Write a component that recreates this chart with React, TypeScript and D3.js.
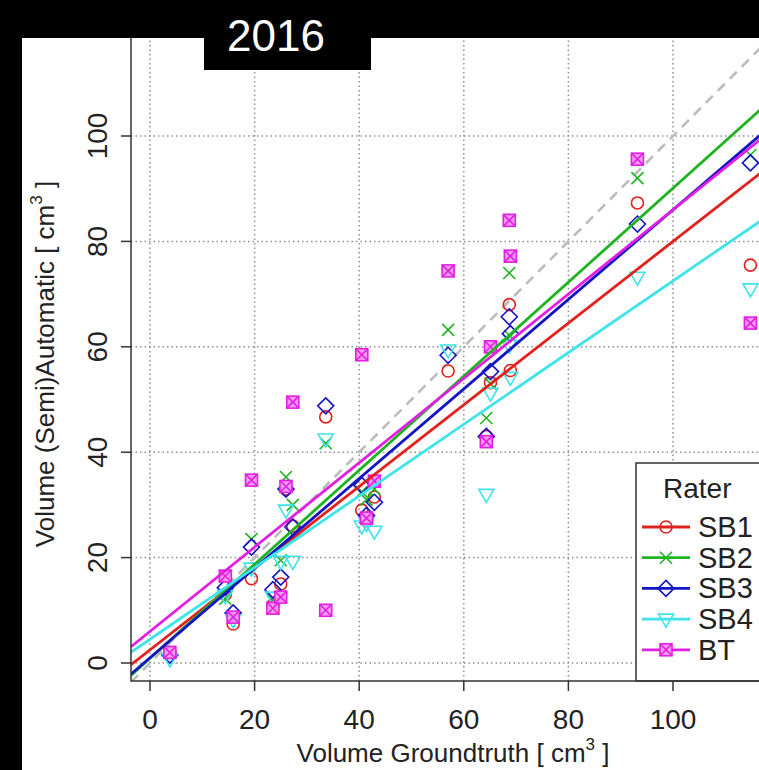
import React from "react";
import * as d3 from "d3";

// groundtruth volume per case (cm^3)
const groundTruth = [3.8, 14.4, 15.9, 19.4, 23.5, 25.0, 26.0, 27.3, 33.6, 40.5, 41.4, 42.9, 57.0, 64.3, 65.1, 68.7, 68.9, 93.2, 114.8];
// (semi)automatic volumes per rater
const sb1 = [2.0, 13.0, 7.4, 16.0, 11.0, 15.0, 33.0, 26.0, 46.7, 29.0, 27.0, 31.5, 55.4, 43.0, 53.2, 68.0, 55.5, 87.3, 75.5];
const sb2 = [2.0, 12.2, 9.0, 23.5, 12.0, 19.5, 35.3, 30.0, 41.7, 32.5, 31.0, 33.0, 63.2, 46.5, 53.0, 74.0, 62.0, 92.0, 96.4];
const sb3 = [1.5, 14.3, 9.5, 22.0, 13.9, 16.3, 33.0, 25.8, 48.8, 33.7, 28.0, 30.5, 58.4, 43.0, 55.3, 65.7, 62.5, 83.3, 94.9];
const sb4 = [0.8, 12.8, 8.2, 18.0, 12.5, 19.3, 29.0, 19.3, 42.5, 26.0, 26.5, 25.0, 59.4, 32.0, 51.2, 60.3, 54.2, 73.2, 71.0];
const bt = [2.0, 16.5, 8.7, 34.7, 10.4, 12.5, 33.5, 49.5, 10.0, 58.5, 27.5, 34.5, 74.4, 42.0, 60.0, 84.0, 77.2, 95.6, 64.5];

const raters = ["SB1", "SB2", "SB3", "SB4", "BT"];
const raterValues = [sb1, sb2, sb3, sb4, bt];
const colors = ["#e3201c", "#1fb41f", "#1414c4", "#3ee4ea", "#e31ee3"];
const shapes = ["circle", "cross", "diamond", "triangle", "squarex"];
// fitted lines
const intercepts = [2.5, 0.9, 1.0, 4.5, 6.0];
const slopes = [0.775, 0.892, 0.85, 0.68, 0.8];

const xTicks = [0, 20, 40, 60, 80, 100, 120];
const yTicks = [0, 20, 40, 60, 80, 100];

const W = 759;
const H = 770;
const left = 131;
const bottom = 681;

const x = d3.scaleLinear().domain([0, 100]).range([150, 673]);
const y = d3.scaleLinear().domain([0, 100]).range([663, 136]);

const font = "'Liberation Sans', Arial, sans-serif";

function Marker({ shape, cx, cy, color }: { shape: string; cx: number; cy: number; color: string }) {
  const sw = 1.6;
  if (shape === "circle") return <circle cx={cx} cy={cy} r={6} fill="none" stroke={color} strokeWidth={sw} />;
  if (shape === "cross")
    return (
      <path d={`M${cx - 6},${cy - 6}L${cx + 6},${cy + 6}M${cx - 6},${cy + 6}L${cx + 6},${cy - 6}`} stroke={color} strokeWidth={sw} />
    );
  if (shape === "diamond")
    return <path d={`M${cx},${cy - 8}L${cx + 8},${cy}L${cx},${cy + 8}L${cx - 8},${cy}Z`} fill="none" stroke={color} strokeWidth={sw} />;
  if (shape === "triangle")
    return <path d={`M${cx - 7.5},${cy - 5}L${cx + 7.5},${cy - 5}L${cx},${cy + 8}Z`} fill="none" stroke={color} strokeWidth={sw} />;
  return (
    <g stroke={color} strokeWidth={1.6}>
      <rect x={cx - 6} y={cy - 6} width={12} height={12} fill="#f59af5" />
      <path d={`M${cx - 6},${cy - 6}L${cx + 6},${cy + 6}M${cx - 6},${cy + 6}L${cx + 6},${cy - 6}`} />
    </g>
  );
}

export default function App() {
  const x0 = x.invert(left);
  const x1 = x.invert(W + 5);
  const line = d3
    .line<number>()
    .x((d) => d[0])
    .y((d) => d[1]);

  return (
    <svg width={W} height={H} style={{ position: "absolute", left: 0, top: 0, background: "#000" }} fontFamily={font}>
      <defs>
        <clipPath id="plot">
          <rect x={left} y={0} width={W - left} height={bottom} />
        </clipPath>
      </defs>
      <rect x={22} y={38} width={W - 22} height={H - 38} fill="#fff" />

      <g clipPath="url(#plot)">
        {xTicks.map((t) => (
          <line key={"gx" + t} x1={x(t)} x2={x(t)} y1={0} y2={bottom} stroke="#8f8f8f" strokeWidth={1.5} strokeDasharray="1.5,3" />
        ))}
        {yTicks.map((t) => (
          <line key={"gy" + t} x1={left} x2={W} y1={y(t)} y2={y(t)} stroke="#8f8f8f" strokeWidth={1.5} strokeDasharray="1.5,3" />
        ))}
        <line x1={x(x0)} y1={y(x0)} x2={x(x1)} y2={y(x1)} stroke="#bcbcbc" strokeWidth={2.6} strokeDasharray="10,7" />
        {raterValues.map((vals, i) =>
          vals.map((v, j) => <Marker key={i + "-" + j} shape={shapes[i]} cx={x(groundTruth[j])} cy={y(v)} color={colors[i]} />)
        )}
        {raters.map((r, i) => (
          <path
            key={"fit" + r}
            d={line([
              [x(x0), y(intercepts[i] + slopes[i] * x0)],
              [x(x1), y(intercepts[i] + slopes[i] * x1)],
            ] as any) as string}
            stroke={colors[i]}
            strokeWidth={2.8}
            fill="none"
          />
        ))}
      </g>

      {/* legend */}
      <rect x={636} y={463} width={140} height={bottom - 463} fill="#fff" stroke="#333" strokeWidth={1.5} />
      <text x={663} y={498} fontSize={28} fill="#222">
        Rater
      </text>
      {raters.map((r, i) => {
        const ly = 527 + i * 30.7;
        return (
          <g key={"lg" + r}>
            <line x1={642} x2={690} y1={ly} y2={ly} stroke={colors[i]} strokeWidth={2.8} />
            <Marker shape={shapes[i]} cx={666} cy={ly} color={colors[i]} />
            <text x={698} y={ly + 10} fontSize={29} fill="#222">
              {r}
            </text>
          </g>
        );
      })}

      {/* frame */}
      <path d={`M${left},0V${bottom}H${W}`} fill="none" stroke="#333" strokeWidth={1.5} />

      {/* x axis */}
      {xTicks
        .filter((t) => x(t) < W)
        .map((t) => (
          <g key={"xt" + t}>
            <line x1={x(t)} x2={x(t)} y1={bottom} y2={bottom + 10} stroke="#333" strokeWidth={1.5} />
            <text x={x(t)} y={729} fontSize={28} textAnchor="middle" fill="#222">
              {t}
            </text>
          </g>
        ))}
      <text x={453} y={762} fontSize={26} textAnchor="middle" fill="#222">
        Volume Groundtruth [ cm
        <tspan dy={-12} fontSize={17}>
          3
        </tspan>
        <tspan dy={12}> ]</tspan>
      </text>

      {/* y axis */}
      {yTicks.map((t) => (
        <g key={"yt" + t}>
          <line x1={left - 10} x2={left} y1={y(t)} y2={y(t)} stroke="#333" strokeWidth={1.5} />
          <text transform={`translate(107,${y(t)}) rotate(-90)`} fontSize={28} textAnchor="middle" fill="#222">
            {t}
          </text>
        </g>
      ))}
      <text transform={`translate(54,364) rotate(-90)`} fontSize={26} textAnchor="middle" fill="#222">
        Volume (Semi)Automatic [ cm
        <tspan dy={-12} fontSize={17}>
          3
        </tspan>
        <tspan dy={12}> ]</tspan>
      </text>

      {/* top band and year label */}
      <rect x={0} y={0} width={W} height={38} fill="#000" />
      <rect x={0} y={0} width={22} height={H} fill="#000" />
      <rect x={204} y={0} width={167} height={70} fill="#000" />
      <text x={276} y={51} fontSize={44} textAnchor="middle" fill="#fff">
        2016
      </text>
    </svg>
  );
}
